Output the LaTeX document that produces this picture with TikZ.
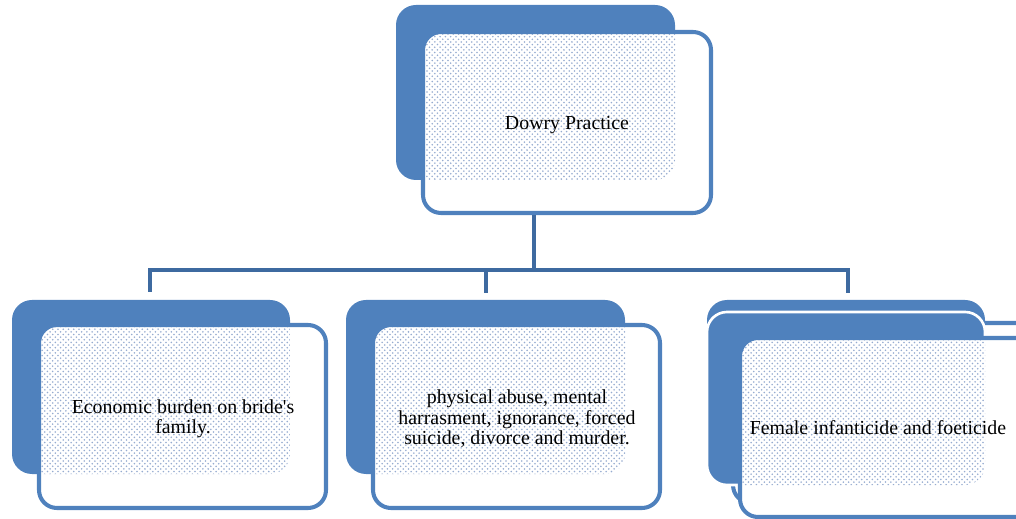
\documentclass[tikz,border=0pt]{standalone}
\usepackage{fontspec}
\setmainfont{Liberation Serif}
\usetikzlibrary{patterns,fit}
\definecolor{bxblue}{RGB}{79,129,189}
\definecolor{lnblue}{RGB}{62,106,160}
\definecolor{dotblue}{RGB}{150,172,208}
\tikzset{
  backshape/.style={fill=bxblue, rounded corners=0.4cm},
  frontfill/.style={fill=white, rounded corners=0.36cm},
  frontline/.style={draw=bxblue, line width=2.3pt, rounded corners=0.36cm},
  dotshape/.style={pattern=crosshatch dots, pattern color=dotblue, rounded corners=0.4cm},
  conn/.style={draw=lnblue, line width=2.5pt},
  lbl/.style={font=\fontsize{11.3}{11.6}\selectfont, align=center, text=black, inner sep=0pt},
}
\newcommand\mydbox[9]{%
  \fill[backshape] (#2,#3) rectangle (#4,#5);
  \fill[frontfill] (#6,#7) rectangle (#8,#9);
  \begin{scope}
    \clip[rounded corners=0.36cm] (#6,#7) rectangle (#8,#9);
    \fill[dotshape] (#2,#3) rectangle (#4,#5);
  \end{scope}
  \coordinate (#1-a) at (#6,#7);
  \coordinate (#1-b) at (#8,#9);
  \node[fit=(#1-a)(#1-b), inner sep=0pt, frontline] (#1) {};
}
\begin{document}
\begin{tikzpicture}[x=0.02cm,y=-0.02cm]
\useasboundingbox (0,0) rectangle (1016,519);

% top box
\mydbox{top}{396}{5}{675}{180}{423}{32}{711}{213}
% left box
\mydbox{left}{12}{300}{290}{474}{39}{325}{326}{508}
% middle box
\mydbox{mid}{346}{300}{625}{474}{373}{325}{660}{508}

% right stacked box: rear copy
\mydbox{rightA}{707}{300}{985}{473}{733}{323}{1040}{503}
% right stacked box: front copy
\fill[backshape, draw=white, line width=1.5pt] (707,312) rectangle (985,485);
\fill[frontfill] (740,338) rectangle (1045,517);
\begin{scope}
  \clip[rounded corners=0.36cm] (740,338) rectangle (1045,517);
  \fill[dotshape] (707,312) rectangle (985,485);
\end{scope}
\coordinate (rB-a) at (740,338);
\coordinate (rB-b) at (1045,517);
\node[fit=(rB-a)(rB-b), inner sep=0pt, frontline] (right) {};

% connectors
\coordinate (j) at (534,270);
\coordinate (dl) at (150,292);
\coordinate (dm) at (486,293);
\coordinate (dr) at (848,293);
\draw[conn] (top.south -| j) -- (j);
\draw[conn] (dl) |- (j) -| (dr);
\draw[conn] (dm) -- (dm |- j);

% labels
\node[lbl] (t0) at (567,125) {Dowry Practice};
\node[lbl] (t1) at (183,419) {Economic burden on bride\textquotesingle s\\family.};
\node[lbl] (t2) at (517,419) {physical abuse, mental\\harrasment, ignorance, forced\\suicide, divorce and murder.};
\node[lbl] (t3) at (878,428) {Female infanticide and foeticide};
\end{tikzpicture}
\end{document}
